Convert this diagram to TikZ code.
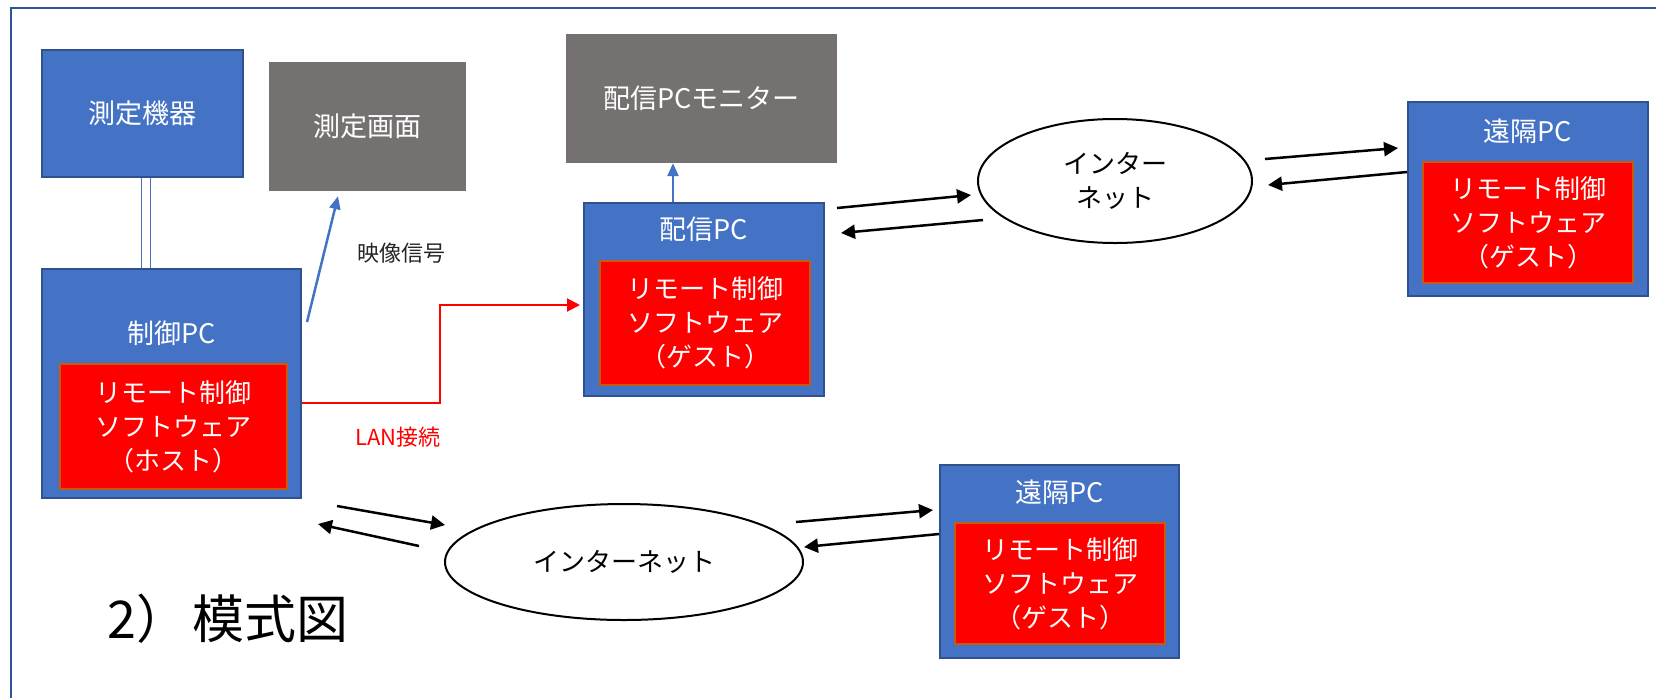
\documentclass[tikz,border=0pt]{standalone}
\usepackage{fontspec}
\setmainfont{Noto Sans CJK JP}
\usetikzlibrary{shapes.geometric,arrows.meta,calc}
\definecolor{boxblue}{HTML}{4472C4}
\definecolor{boxblueborder}{HTML}{2F528F}
\definecolor{mongray}{HTML}{767171}
\definecolor{swred}{HTML}{FF0000}
\definecolor{swborder}{HTML}{C55A11}
\definecolor{frameblue}{HTML}{2F5597}
\begin{document}
\begin{tikzpicture}[x=1pt,y=-1pt,
  pcbox/.style={draw=boxblueborder, fill=boxblue, line width=2pt, inner sep=0pt},
  monbox/.style={fill=mongray, text=white, inner sep=0pt, font=\fontsize{27}{34}\selectfont},
  devbox/.style={pcbox, text=white, font=\fontsize{27}{34}\selectfont},
  pclabel/.style={text=white, inner sep=0pt, font=\fontsize{27}{34}\selectfont},
  swbox/.style={draw=swborder, fill=swred, line width=2pt, text=white, inner sep=0pt, align=center, font=\fontsize{26}{34}\selectfont},
  netell/.style={ellipse, draw=black, line width=2pt, fill=white, inner sep=0pt, align=center, font=\fontsize{26}{34}\selectfont},
  bluearrow/.style={draw=boxblue, line width=2.5pt, -{Triangle[length=13pt,width=11pt]}},
  blackarrow/.style={draw=black, line width=2.5pt, -{Triangle[length=14pt,width=14pt]}},
  redarrow/.style={draw=swred, line width=2pt, -{Triangle[length=13pt,width=13pt]}},
  note/.style={inner sep=0pt, font=\fontsize{22}{26}\selectfont}
]
\useasboundingbox (0,0) rectangle (1656,697);
\fill[white] (0,0) rectangle (1656,697);
% frame (top and left edges visible)
\draw[frameblue, line width=2.5pt] (11,705) -- (11,8) -- (1665,8);

% left group
\node[devbox, minimum width=201pt, minimum height=127pt] (kiki) at (142.5,113.5) {測定機器};
\node[monbox, minimum width=197pt, minimum height=129pt] (gamen) at (367.5,126.5) {測定画面};
\node[pcbox, minimum width=259pt, minimum height=229pt] (seigyo) at (171.5,383.5) {};
\node[pclabel] (seigyoL) at ([yshift=-65pt]seigyo.north) {制御PC};
\node[swbox, minimum width=227pt, minimum height=125pt] (host) at (173.5,426.5) {リモート制御\\ソフトウェア\\（ホスト）};

% distribution PC
\node[monbox, minimum width=271pt, minimum height=129pt] (monitor) at (701.5,98.5) {配信PCモニター};
\node[pcbox, minimum width=240pt, minimum height=193pt] (haishin) at (704,299.5) {};
\node[pclabel] (haishinL) at ([yshift=-27pt]haishin.north) {配信PC};
\node[swbox, minimum width=210pt, minimum height=124pt] (guest1) at (705,323) {リモート制御\\ソフトウェア\\（ゲスト）};

% top internet and remote
\node[netell, minimum width=274pt, minimum height=124pt] (inet1) at (1115,181) {インター\\ネット};
\node[pcbox, minimum width=240pt, minimum height=194pt] (enkaku1) at (1528,199) {};
\node[pclabel] (enkaku1L) at ([yshift=-30pt]enkaku1.north) {遠隔PC};
\node[swbox, minimum width=210pt, minimum height=121pt] (guest2) at (1528,222.5) {リモート制御\\ソフトウェア\\（ゲスト）};

% bottom internet and remote
\node[netell, minimum width=358pt, minimum height=116pt] (inet2) at (624,562) {インターネット};
\node[pcbox, minimum width=239pt, minimum height=193pt] (enkaku2) at (1059.5,561.5) {};
\node[pclabel] (enkaku2L) at ([yshift=-28pt]enkaku2.north) {遠隔PC};
\node[swbox, minimum width=210pt, minimum height=121pt] (guest3) at (1060,583.5) {リモート制御\\ソフトウェア\\（ゲスト）};

% labels
\node[note, text=black!85] (eizo) at (401,253) {映像信号};
\node[note, text=swred] (lan) at (398,437) {LAN接続};
\node[inner sep=0pt, font=\fontsize{52}{56}\selectfont] (title) at (228,619) {2）\kern4pt 模式図};

% connectors
\draw[boxblue, line width=1pt, double=white, double distance=8pt] ([xshift=3.5pt]kiki.south) -- ([xshift=3.5pt]kiki.south |- seigyo.north);
\draw[bluearrow] ([xshift=5pt,yshift=-54pt]seigyo.north east) -- ([xshift=-29.5pt,yshift=-5pt]gamen.south);
\draw[bluearrow] ([xshift=-31pt]haishin.north) -- ([xshift=-31pt]haishin.north |- monitor.south);
\draw[redarrow] ([yshift=-19.5pt]seigyo.east) -- ++(138,0) |- ([xshift=-3pt,yshift=-5.5pt]haishin.west);

\draw[blackarrow] ([xshift=12pt,yshift=-6pt]haishin.north east) -- ([xshift=-6pt,yshift=-14pt]inet1.west);
\draw[blackarrow] ([xshift=6pt,yshift=-39pt]inet1.west) -- ([xshift=16pt,yshift=-31pt]haishin.north east);
\draw[blackarrow] ([xshift=12pt,yshift=22pt]inet1.east) -- ([xshift=-9pt,yshift=-47pt]enkaku1.north west);
\draw[blackarrow] ([yshift=-71pt]enkaku1.north west) -- ([xshift=15pt,yshift=-4pt]inet1.east);

\draw[blackarrow] ([xshift=35pt,yshift=-7pt]seigyo.south east) -- ([xshift=1pt,yshift=37pt]inet2.west);
\draw[blackarrow] ([xshift=-25pt,yshift=16pt]inet2.west) -- ([xshift=16pt,yshift=-25pt]seigyo.south east);
\draw[blackarrow] ([xshift=-8pt,yshift=40pt]inet2.east) -- ([xshift=-6pt,yshift=-46pt]enkaku2.north west);
\draw[blackarrow] ([yshift=-70pt]enkaku2.north west) -- ([yshift=15pt]inet2.east);
\end{tikzpicture}
\end{document}
